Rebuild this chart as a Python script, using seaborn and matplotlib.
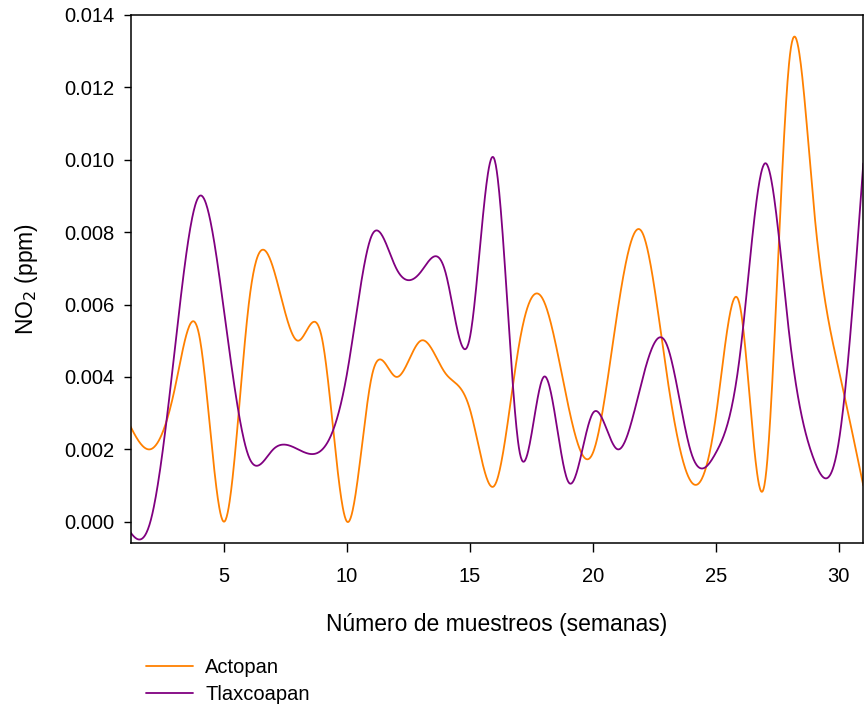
import numpy as np
import pandas as pd
import matplotlib
matplotlib.use("Agg")
import matplotlib.pyplot as plt
import seaborn as sns

# datos semanales de NO2 (ppm)
semanas = list(range(1, 32))
actopan = [0.0029, 0.0020, 0.0037, 0.0051, 0.0000, 0.0060, 0.0070, 0.0050, 0.0050, 0.0000,
           0.0040, 0.0040, 0.0050, 0.0041, 0.0031, 0.0010, 0.0049, 0.0061, 0.0032, 0.0019,
           0.0058, 0.0080, 0.0041, 0.0011, 0.0029, 0.0059, 0.0011, 0.0128, 0.0086, 0.0042,
           0.0010]
tlaxcoapan = [-0.0001, 0.0000, 0.0048, 0.0090, 0.0058, 0.0018, 0.0020, 0.0020, 0.0020, 0.0041,
              0.0079, 0.0070, 0.0069, 0.0069, 0.0051, 0.0100, 0.0020, 0.0040, 0.0011, 0.0030,
              0.0020, 0.0039, 0.0049, 0.0019, 0.0019, 0.0047, 0.0099, 0.0051, 0.0017, 0.0022,
              0.0099]
sitios = ["Actopan", "Tlaxcoapan"]
colores = ["#FF8000", "#800080"]


# spline cubico natural para suavizar la curva
def spline_natural(x, y, xs):
    x = np.asarray(x, dtype=float)
    y = np.asarray(y, dtype=float)
    n = len(x)
    h = np.diff(x)
    A = np.zeros((n, n))
    r = np.zeros(n)
    A[0, 0] = A[-1, -1] = 1
    for i in range(1, n - 1):
        A[i, i - 1] = h[i - 1]
        A[i, i] = 2 * (h[i - 1] + h[i])
        A[i, i + 1] = h[i]
        r[i] = 3 * ((y[i + 1] - y[i]) / h[i] - (y[i] - y[i - 1]) / h[i - 1])
    c = np.linalg.solve(A, r)
    b = (y[1:] - y[:-1]) / h - h * (2 * c[:-1] + c[1:]) / 3
    d = (c[1:] - c[:-1]) / (3 * h)
    idx = np.clip(np.searchsorted(x, xs) - 1, 0, n - 2)
    dx = xs - x[idx]
    return y[idx] + b[idx] * dx + c[idx] * dx ** 2 + d[idx] * dx ** 3


xs = np.linspace(semanas[0], semanas[-1], 1500)
df = pd.concat([
    pd.DataFrame({"semana": xs, "no2": spline_natural(semanas, actopan, xs), "sitio": sitios[0]}),
    pd.DataFrame({"semana": xs, "no2": spline_natural(semanas, tlaxcoapan, xs), "sitio": sitios[1]}),
])

sns.set_style("ticks")
plt.rcParams['font.family'] = ['Liberation Sans', 'DejaVu Sans']
plt.rcParams['text.color'] = 'black'
plt.rcParams['axes.labelcolor'] = 'black'
plt.rcParams['xtick.color'] = 'black'
plt.rcParams['ytick.color'] = 'black'

fig = plt.figure(figsize=(8.64, 7.10), dpi=100)
ax = fig.add_axes([0.1513, 0.2352, 0.8479, 0.7437])
sns.lineplot(data=df, x="semana", y="no2", hue="sitio", hue_order=sitios,
             palette=colores, linewidth=1.3, ax=ax, legend=False)

ax.set_xlim(1.2, 31)
ax.set_ylim(-0.00059, 0.014)
ax.set_xticks([5, 10, 15, 20, 25, 30])
ax.set_yticks(np.arange(0, 0.0141, 0.002))
ax.set_yticklabels(["%.3f" % v for v in np.arange(0, 0.0141, 0.002)])
ax.tick_params(axis="x", length=6.5, width=1.0, labelsize=14.5, pad=11)
ax.tick_params(axis="y", length=5, width=1.0, labelsize=14.5, pad=7)
for s in ax.spines.values():
    s.set_visible(True)
    s.set_linewidth(1.1)
    s.set_color("black")

ax.set_xlabel("Número de muestreos (semanas)", fontsize=16.5, labelpad=19)
ax.set_ylabel("NO$_2$ (ppm)", fontsize=16.5, labelpad=17)

# leyenda debajo del grafico
handles = [plt.Line2D([], [], color=c, lw=1.3) for c in colores]
fig.legend(handles, sitios, loc="upper left", bbox_to_anchor=(0.1686, 0.0735),
           frameon=False, fontsize=14.5, handlelength=2.35, handletextpad=0.6,
           labelspacing=0.4, borderpad=0, borderaxespad=0)

fig.savefig("out.png", dpi=100)
